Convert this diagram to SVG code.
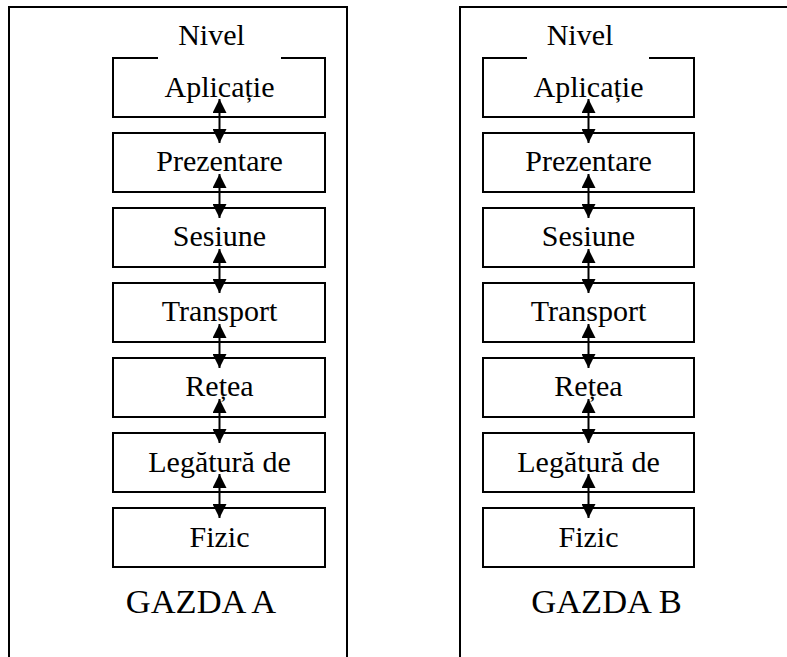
<svg xmlns="http://www.w3.org/2000/svg" width="787" height="657" viewBox="0 0 787 657">
<style>
.box{fill:none;stroke:#000;stroke-width:2}
.frame{fill:none;stroke:#000;stroke-width:2}
text{font-family:'Liberation Serif','Times New Roman',serif;fill:#000;text-anchor:middle}
.lbl{font-size:30px}
.host{font-size:34.5px}
.conn{stroke:#000;stroke-width:2;fill:none;marker-start:url(#ah);marker-end:url(#ah)}
</style>
<defs>
<marker id="ah" viewBox="0 0 14 14" refX="14" refY="7" markerWidth="14" markerHeight="14" markerUnits="userSpaceOnUse" orient="auto-start-reverse">
<path d="M0,0 L14,7 L0,14 Z" fill="#000"/>
</marker>
</defs>
<g id="hostA">
<path class="frame" d="M9,657 V7 H347 V657"/>
<text class="lbl" x="211.5" y="45">Nivel</text>
<text class="host" x="201" y="613">GAZDA A</text>
</g>
<g id="hostB">
<path class="frame" d="M460,657 V7 H790"/>
<text class="lbl" x="580" y="45">Nivel</text>
<text class="host" x="606.5" y="613">GAZDA B</text>
</g>
<g id="A-aplicatie"><path class="box" d="M158,58 H113 V117 H325 V58 H281"/><text class="lbl" x="219.5" y="97">Aplicație</text></g>
<g id="A-prezentare"><rect class="box" x="113" y="133" width="212" height="59"/><text class="lbl" x="219.5" y="171">Prezentare</text></g>
<g id="A-sesiune"><rect class="box" x="113" y="208" width="212" height="59"/><text class="lbl" x="219.5" y="246">Sesiune</text></g>
<g id="A-transport"><rect class="box" x="113" y="283" width="212" height="59"/><text class="lbl" x="219.5" y="321">Transport</text></g>
<g id="A-retea"><rect class="box" x="113" y="358" width="212" height="59"/><text class="lbl" x="219.5" y="396">Rețea</text></g>
<g id="A-legatura"><rect class="box" x="113" y="433" width="212" height="59"/><text class="lbl" x="219.5" y="472">Legătură de</text></g>
<g id="A-fizic"><rect class="box" x="113" y="508" width="212" height="59"/><text class="lbl" x="219.5" y="547">Fizic</text></g>
<g id="B-aplicatie"><path class="box" d="M527,58 H483 V117 H694 V58 H649"/><text class="lbl" x="588.5" y="97">Aplicație</text></g>
<g id="B-prezentare"><rect class="box" x="483" y="133" width="211" height="59"/><text class="lbl" x="588.5" y="171">Prezentare</text></g>
<g id="B-sesiune"><rect class="box" x="483" y="208" width="211" height="59"/><text class="lbl" x="588.5" y="246">Sesiune</text></g>
<g id="B-transport"><rect class="box" x="483" y="283" width="211" height="59"/><text class="lbl" x="588.5" y="321">Transport</text></g>
<g id="B-retea"><rect class="box" x="483" y="358" width="211" height="59"/><text class="lbl" x="588.5" y="396">Rețea</text></g>
<g id="B-legatura"><rect class="box" x="483" y="433" width="211" height="59"/><text class="lbl" x="588.5" y="472">Legătură de</text></g>
<g id="B-fizic"><rect class="box" x="483" y="508" width="211" height="59"/><text class="lbl" x="588.5" y="547">Fizic</text></g>
<g id="connectors">
<path class="conn" d="M219.5,99 V143"/>
<path class="conn" d="M219.5,174 V218"/>
<path class="conn" d="M219.5,249 V293"/>
<path class="conn" d="M219.5,324 V368"/>
<path class="conn" d="M219.5,399 V443"/>
<path class="conn" d="M219.5,474 V518"/>
<path class="conn" d="M588.5,99 V143"/>
<path class="conn" d="M588.5,174 V218"/>
<path class="conn" d="M588.5,249 V293"/>
<path class="conn" d="M588.5,324 V368"/>
<path class="conn" d="M588.5,399 V443"/>
<path class="conn" d="M588.5,474 V518"/>
</g>
</svg>
